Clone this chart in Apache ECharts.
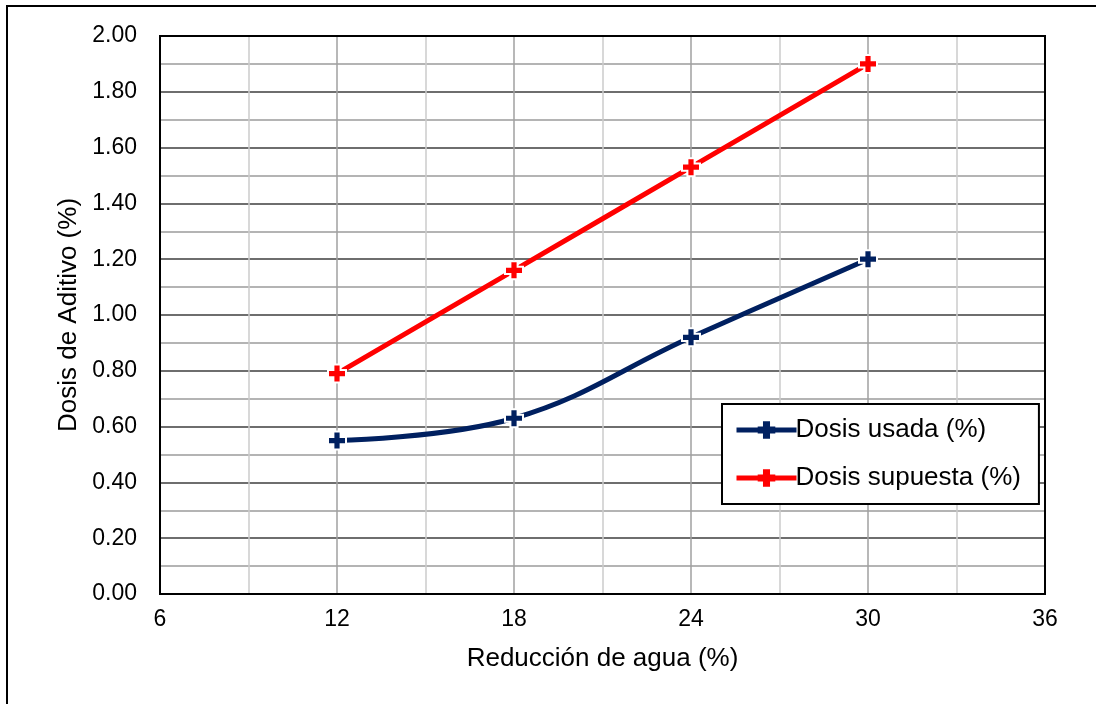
<!DOCTYPE html>
<html>
<head>
<meta charset="utf-8">
<script src="https://cdn.jsdelivr.net/npm/echarts@6/dist/echarts.min.js"></script>
<style>html,body{margin:0;padding:0;background:#fff;}#c{width:1096px;height:704px;}</style>
</head>
<body>
<div id="c"></div>
<script>
const reduccion = [12, 18, 24, 30];
const dosisUsada = [0.55, 0.63, 0.92, 1.20];
const dosisSupuesta = [0.79, 1.16, 1.53, 1.90];
const seriesNames = ['Dosis usada (%)', 'Dosis supuesta (%)'];
const xTitle = 'Reducción de agua (%)';
const yTitle = 'Dosis de Aditivo (%)';

const plus = 'path://M3,0H7V3H10V7H7V10H3V7H0V3H3Z';
const font = 'Liberation Sans, Arial, sans-serif';
const chart = echarts.init(document.getElementById('c'));
function mk(name, xs, ys, color) {
  return {
    name: name, type: 'line', smooth: 0.4,
    data: xs.map((x, i) => [x, ys[i]]),
    symbol: plus, symbolSize: 18,
    lineStyle: {color: color, width: 5},
    itemStyle: {color: color, borderColor: '#fff', borderWidth: 2},
    z: 5
  };
}
chart.setOption({
  animation: false,
  backgroundColor: '#fff',
  graphic: [{type: 'rect', shape: {x: 7, y: 6, width: 1200, height: 900}, style: {fill: 'none', stroke: '#000', lineWidth: 2}, z: 100}],
  grid: {left: 160, right: 51, top: 36, bottom: 110, show: true, borderColor: '#000', borderWidth: 2, z: 3},
  legend: {
    orient: 'vertical', left: 722, top: 404,
    backgroundColor: '#fff', borderColor: '#000', borderWidth: 2,
    padding: [13, 18, 13, 12], itemGap: 22, itemWidth: 60, itemHeight: 22,
    lineStyle: {width: 5},
    itemStyle: {borderWidth: 0},
    textStyle: {fontFamily: font, fontSize: 26, color: '#000', padding: [0,0,0,-6]},
    data: seriesNames
  },
  xAxis: {
    type: 'value', min: 6, max: 36, interval: 6,
    name: xTitle, nameLocation: 'middle', nameGap: 52,
    nameTextStyle: {fontFamily: font, fontSize: 26, color: '#000'},
    axisLine: {show: true, lineStyle: {color: '#000', width: 2}},
    axisTick: {show: false},
    axisLabel: {fontFamily: font, fontSize: 23, color: '#000', margin: 14},
    splitLine: {show: true, lineStyle: {color: '#a0a0a0', width: 1.5}},
    minorTick: {show: false, splitNumber: 2},
    minorSplitLine: {show: true, lineStyle: {color: '#cccccc', width: 1.5}}
  },
  yAxis: {
    type: 'value', min: 0, max: 2, interval: 0.2,
    name: yTitle, nameLocation: 'middle', nameGap: 77,
    nameTextStyle: {fontFamily: font, fontSize: 26, color: '#000'},
    axisLine: {show: true, lineStyle: {color: '#000', width: 2}},
    axisTick: {show: false},
    axisLabel: {fontFamily: font, fontSize: 23, color: '#000', margin: 23, formatter: v => v.toFixed(2)},
    splitLine: {show: true, lineStyle: {color: '#6e6e6e', width: 2}},
    minorTick: {show: false, splitNumber: 2},
    minorSplitLine: {show: true, lineStyle: {color: '#b4b4b4', width: 2}}
  },
  series: [
    mk(seriesNames[0], reduccion, dosisUsada, '#002060'),
    mk(seriesNames[1], reduccion, dosisSupuesta, '#ff0000')
  ]
});
</script>
</body>
</html>
